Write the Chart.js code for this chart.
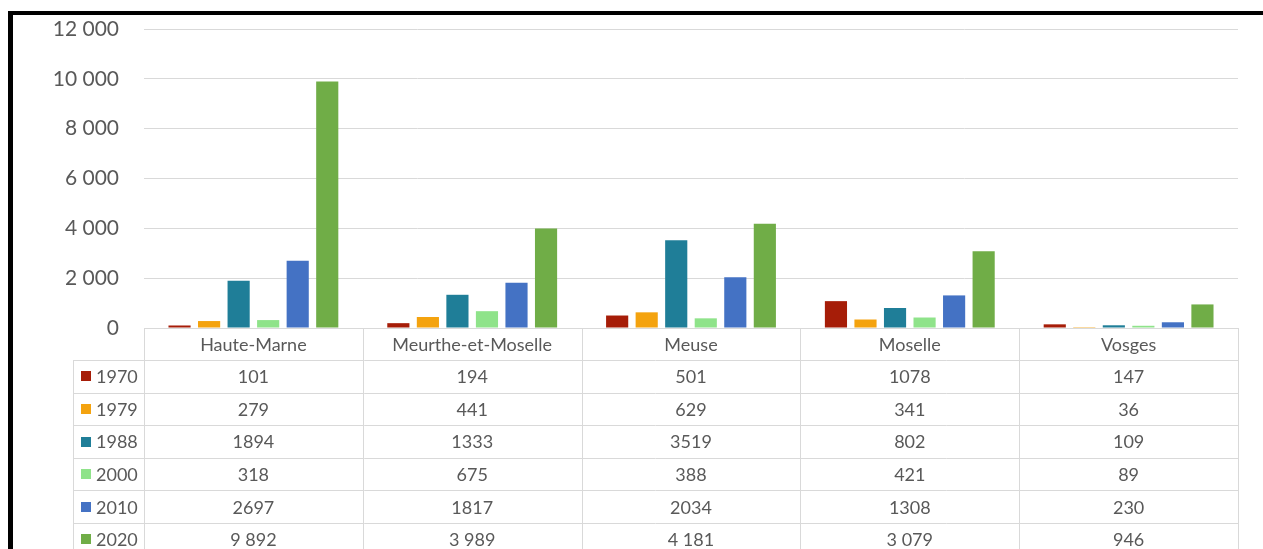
<!DOCTYPE html>
<html>
<head>
<meta charset="utf-8">
<script src="https://cdn.jsdelivr.net/npm/chart.js@4"></script>
<style>
  html, body { margin: 0; padding: 0; background: #fff; }
  #wrap { position: relative; width: 1263px; height: 549px; overflow: hidden; }
  #frame {
    position: absolute; left: 8px; top: 11px; width: 1300px; height: 600px;
    border-left: 5px solid #000; border-top: 4px solid #000; box-sizing: border-box;
  }
  canvas { position: absolute; left: 0; top: 0; }
</style>
</head>
<body>
<div id="wrap">
  <div id="frame"></div>
  <canvas id="chart" width="1263" height="549"></canvas>
</div>
<script>
"use strict";

// departments (categories)
const departments = ['Haute-Marne', 'Meurthe-et-Moselle', 'Meuse', 'Moselle', 'Vosges'];
// years (series)
const years = ['1970', '1979', '1988', '2000', '2010', '2020'];
const v1970 = [101, 194, 501, 1078, 147];
const v1979 = [279, 441, 629, 341, 36];
const v1988 = [1894, 1333, 3519, 802, 109];
const v2000 = [318, 675, 388, 421, 89];
const v2010 = [2697, 1817, 2034, 1308, 230];
const v2020 = [9892, 3989, 4181, 3079, 946];
const seriesColors = ['#a61d08', '#f4a30f', '#1f7e98', '#8fe38a', '#4472c4', '#70ad47'];
// only the 2020 row shows a thousands separator in the table
const groupedYears = ['2020'];

const yMax = 12000;
const yStep = 2000;

const allValues = [v1970, v1979, v1988, v2000, v2010, v2020];
const textColor = '#595959';
const lineColor = '#d9d9d9';
const fontFamily = "Lato, 'Open Sans', sans-serif";

function spaced(n) {
    return String(n).replace(/\B(?=(\d{3})+(?!\d))/g, ' ');
}

// draws the data table under the plot, aligned on the category scale
const dataTable = {
    id: 'dataTable',
    afterDraw(chart) {
        const ctx = chart.ctx;
        const area = chart.chartArea;
        const x = chart.scales.x;
        const colW = area.width / departments.length;
        const headH = 32;
        const rowH = 32.6;
        const labelLeft = 73;
        const top = area.bottom;
        const bottom = top + headH + rowH * years.length;

        ctx.save();
        ctx.strokeStyle = lineColor;
        ctx.lineWidth = 1;
        ctx.beginPath();
        // header top
        ctx.moveTo(area.left, top + 0.5);
        ctx.lineTo(area.right, top + 0.5);
        // row lines
        for (let r = 0; r <= years.length; r++) {
            const y = Math.round(top + headH + r * rowH) + 0.5;
            ctx.moveTo(labelLeft, y);
            ctx.lineTo(area.right, y);
        }
        // column lines
        for (let c = 0; c <= departments.length; c++) {
            const xx = Math.round(area.left + c * colW) + 0.5;
            ctx.moveTo(xx, top);
            ctx.lineTo(xx, bottom);
        }
        ctx.moveTo(labelLeft + 0.5, top + headH);
        ctx.lineTo(labelLeft + 0.5, bottom);
        ctx.stroke();

        ctx.fillStyle = textColor;
        ctx.font = '18px ' + fontFamily;
        ctx.textBaseline = 'middle';
        ctx.textAlign = 'center';
        departments.forEach((d, i) => {
            ctx.fillText(d, x.getPixelForValue(i), top + headH / 2 + 1);
        });

        years.forEach((yr, r) => {
            const cy = top + headH + r * rowH + rowH / 2 + 1;
            ctx.fillStyle = seriesColors[r];
            ctx.fillRect(81, Math.round(cy - 6), 10, 10);
            ctx.fillStyle = textColor;
            ctx.textAlign = 'left';
            ctx.fillText(yr, 96, cy);
            ctx.textAlign = 'center';
            allValues[r].forEach((v, i) => {
                const txt = groupedYears.includes(yr) ? spaced(v) : String(v);
                ctx.fillText(txt, x.getPixelForValue(i), cy);
            });
        });
        ctx.restore();
    }
};

new Chart(document.getElementById('chart').getContext('2d'), {
    type: 'bar',
    data: {
        labels: departments,
        datasets: years.map((yr, i) => ({
            label: yr,
            data: allValues[i],
            backgroundColor: seriesColors[i],
            borderWidth: 0,
            categoryPercentage: 0.81,
            barPercentage: 0.75
        }))
    },
    options: {
        responsive: false,
        animation: false,
        layout: { padding: { top: 29, right: 25, bottom: 221, left: 0 } },
        plugins: {
            legend: { display: false },
            tooltip: { enabled: false }
        },
        scales: {
            x: {
                display: false,
                grid: { display: false }
            },
            y: {
                min: 0,
                max: yMax,
                border: { display: false },
                grid: { color: lineColor, lineWidth: 1, drawTicks: false },
                ticks: {
                    stepSize: yStep,
                    padding: 25,
                    color: textColor,
                    font: { family: fontFamily, size: 21 },
                    callback: (v) => spaced(v)
                },
                afterFit: (scale) => {
                    scale.width = 144;
                    scale.paddingTop = 0;
                    scale.paddingBottom = 0;
                }
            }
        }
    },
    plugins: [dataTable]
});
</script>
</body>
</html>
